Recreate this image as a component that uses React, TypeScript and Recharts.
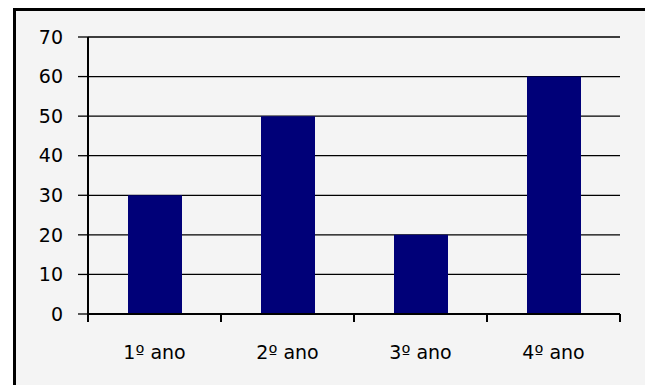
import { BarChart, Bar, XAxis, YAxis, CartesianGrid } from "recharts";

const categories = ["1º ano", "2º ano", "3º ano", "4º ano"];
const values = [30, 50, 20, 60];
const yTicks = [0, 10, 20, 30, 40, 50, 60, 70];

const data = categories.map((name, i) => ({ name, value: values[i] }));

const font = "'DejaVu Sans', Verdana, sans-serif";

// category axis: label in the middle, tick marks on the band edges
function EdgeTick(props: any) {
  const { x, y, payload, index, visibleTicksCount } = props;
  const half = payload?.offset ?? 0;
  const last = index === visibleTicksCount - 1;
  return (
    <g>
      <line x1={x - half} x2={x - half} y1={y} y2={y + 8} stroke="#000" strokeWidth={2} />
      {last && (
        <line x1={x + half} x2={x + half} y1={y} y2={y + 8} stroke="#000" strokeWidth={2} />
      )}
      <text x={x} y={y + 45} textAnchor="middle" fill="#000" fontSize={19} fontFamily={font}>
        {payload.value}
      </text>
    </g>
  );
}

export default function App() {
  return (
    <div
      style={{
        position: "fixed",
        top: 0,
        left: 0,
        width: 645,
        height: 385,
        overflow: "hidden",
        background: "#fff",
      }}
    >
      <div
        style={{
          position: "absolute",
          left: 13,
          top: 8,
          width: 700,
          height: 450,
          borderLeft: "3px solid #000",
          borderTop: "3px solid #000",
          background: "#f4f4f4",
        }}
      />
      <div style={{ position: "absolute", left: 0, top: 0 }}>
        <BarChart
          width={645}
          height={385}
          data={data}
          margin={{ top: 37, right: 25, bottom: 41, left: 0 }}
          barCategoryGap={0}
        >
          <CartesianGrid vertical={false} stroke="#000" strokeWidth={1.3} />
          <XAxis
            dataKey="name"
            height={30}
            axisLine={{ stroke: "#000", strokeWidth: 2 }}
            tickLine={false}
            tickSize={0}
            tickMargin={0}
            interval={0}
            tick={<EdgeTick />}
          />
          <YAxis
            width={88}
            domain={[0, 70]}
            ticks={yTicks}
            interval={0}
            axisLine={{ stroke: "#000", strokeWidth: 2 }}
            tickLine={{ stroke: "#000", strokeWidth: 1.3 }}
            tickSize={10}
            tickMargin={15}
            tick={{ fill: "#000", fontSize: 19, fontFamily: font }}
          />
          <Bar dataKey="value" fill="#000078" barSize={54} isAnimationActive={false} />
        </BarChart>
      </div>
    </div>
  );
}
